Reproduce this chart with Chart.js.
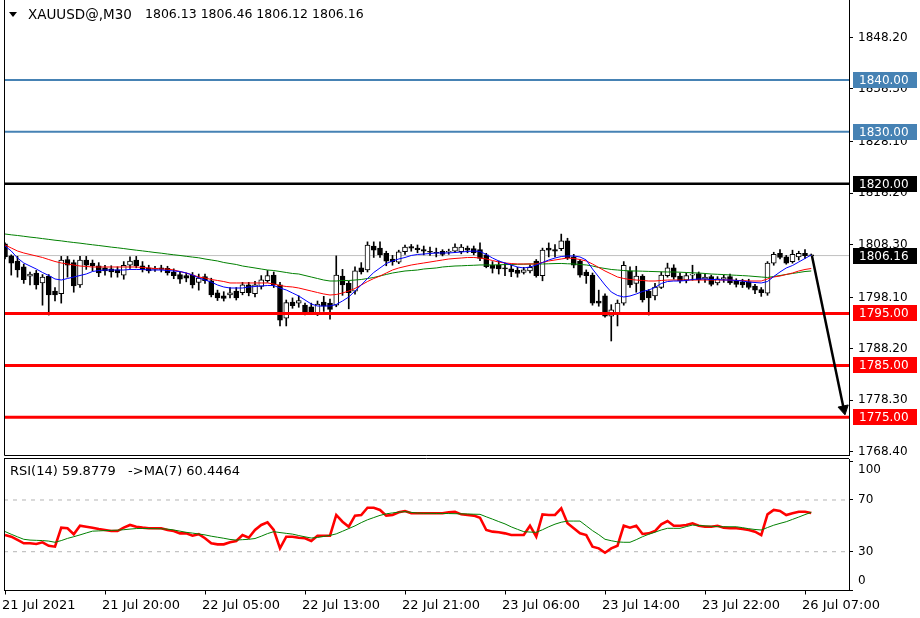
<!DOCTYPE html>
<html><head><meta charset="utf-8">
<script src="https://cdn.jsdelivr.net/npm/chart.js@4.4.0/dist/chart.umd.min.js"></script>
<style>
html,body{margin:0;padding:0;background:#fff;width:920px;height:618px;overflow:hidden}
#c1{position:absolute;left:0;top:0}
#c2{position:absolute;left:0;top:457px}
</style></head><body>
<canvas id="c1" width="920" height="457"></canvas>
<canvas id="c2" width="920" height="161"></canvas>
<script>
const symbol = 'XAUUSD@';
const timeframe = 'M30';
const opens = [
1808.4,1806.1,1805.1,1804.0,1802.2,1802.8,1800.9,1802.2,1799.3,1798.8,
1805.4,1804.8,1800.5,1805.3,1804.7,1804.2,1803.8,1803.6,1803.4,1802.4,
1804.3,1805.3,1804.2,1803.8,1803.5,1803.8,1803.7,1803.0,1802.5,1802.3,
1802.4,1801.0,1802.1,1801.3,1799.0,1798.4,1798.6,1799.3,1799.0,1800.5,
1798.8,1800.2,1801.3,1802.4,1800.5,1794.1,1797.2,1797.0,1796.6,1796.3,
1795.0,1797.2,1797.0,1796.6,1802.2,1800.8,1799.3,1803.8,1803.4,1808.0,
1807.6,1806.6,1805.5,1804.9,1806.9,1807.9,1807.6,1807.3,1807.0,1806.8,
1807.0,1806.8,1807.0,1806.9,1807.6,1807.5,1807.3,1806.3,1804.3,1804.3,
1803.8,1803.6,1803.3,1802.9,1803.2,1805.1,1802.3,1807.6,1807.3,1807.5,
1809.0,1805.9,1805.1,1803.0,1802.4,1797.4,1798.4,1794.5,1795.0,1797.0,
1803.2,1800.8,1802.2,1799.3,1798.4,1800.0,1802.3,1803.8,1802.2,1801.4,
1802.4,1802.7,1801.6,1802.1,1800.9,1801.6,1802.1,1801.2,1801.1,1801.1,
1800.3,1799.6,1798.9,1804.7,1806.6,1805.9,1805.0,1805.9,1806.6,1806.13];
const highs = [
1808.6,1806.3,1806.0,1804.5,1803.0,1803.3,1802.5,1802.5,1800.0,1806.0,
1806.0,1805.3,1806.0,1806.0,1805.3,1804.8,1804.3,1804.2,1804.0,1805.0,
1805.9,1806.0,1805.0,1804.3,1804.1,1804.3,1804.1,1803.6,1803.0,1802.8,
1802.9,1802.6,1802.6,1801.8,1799.5,1799.2,1800.0,1800.0,1801.0,1801.0,
1801.2,1802.3,1803.3,1803.0,1801.0,1797.6,1798.0,1798.4,1797.0,1797.0,
1797.4,1798.3,1797.8,1806.1,1803.5,1801.2,1804.0,1804.8,1808.8,1808.8,
1808.8,1807.0,1806.2,1807.2,1808.2,1808.3,1808.2,1808.0,1807.8,1807.6,
1807.3,1807.4,1808.4,1808.3,1808.0,1808.0,1808.6,1806.6,1805.0,1805.1,
1804.7,1804.3,1803.9,1803.9,1804.4,1805.4,1807.6,1808.6,1808.3,1810.3,
1809.5,1806.4,1805.4,1803.4,1802.8,1799.5,1798.8,1796.7,1797.6,1805.0,
1804.0,1804.1,1802.5,1799.6,1800.8,1803.0,1804.7,1804.4,1802.8,1802.8,
1804.3,1803.0,1802.6,1802.4,1802.1,1802.4,1802.6,1801.7,1801.6,1801.6,
1800.6,1800.0,1805.0,1806.8,1807.3,1806.2,1807.2,1807.0,1807.3,1806.46];
const lows = [
1805.5,1802.4,1802.0,1800.8,1800.5,1799.7,1796.6,1794.7,1797.4,1797.0,
1802.0,1799.1,1800.0,1803.5,1803.2,1802.1,1802.4,1802.0,1802.0,1801.6,
1803.7,1803.8,1803.0,1802.8,1803.1,1803.0,1802.4,1801.7,1800.8,1801.1,
1799.9,1799.5,1800.8,1798.2,1797.5,1797.4,1798.0,1797.6,1798.6,1798.4,
1798.2,1799.7,1801.0,1800.0,1792.6,1792.6,1796.0,1796.2,1794.7,1794.8,
1794.6,1795.4,1793.9,1796.3,1798.5,1795.9,1798.7,1802.6,1803.0,1805.8,
1805.8,1804.2,1804.3,1804.6,1806.4,1807.0,1806.7,1806.3,1806.2,1805.9,
1806.1,1806.4,1806.7,1806.5,1806.7,1806.3,1805.2,1803.8,1802.8,1802.6,
1802.3,1802.1,1802.0,1802.6,1802.8,1802.0,1801.3,1805.9,1805.9,1807.1,
1805.4,1803.8,1802.0,1800.8,1796.6,1796.4,1794.3,1789.7,1792.6,1796.6,
1800.0,1799.1,1797.2,1794.7,1797.6,1799.8,1802.0,1801.6,1800.9,1800.9,
1801.4,1800.9,1801.0,1800.3,1800.5,1801.0,1800.6,1800.1,1800.0,1799.7,
1798.8,1798.3,1798.5,1804.3,1805.5,1804.5,1804.7,1805.3,1805.6,1806.12];
const closes = [
1805.9,1804.7,1803.4,1801.5,1802.6,1800.5,1802.0,1798.6,1798.6,1805.3,
1804.3,1800.3,1805.3,1804.3,1804.2,1802.8,1803.2,1803.0,1802.8,1804.3,
1805.1,1804.2,1803.5,1803.2,1803.6,1803.5,1802.8,1802.3,1801.6,1801.8,
1800.5,1801.8,1801.3,1798.6,1798.0,1797.9,1799.0,1798.0,1800.5,1799.0,
1800.5,1801.5,1802.3,1800.5,1793.7,1797.1,1796.5,1797.5,1795.0,1795.2,
1796.8,1796.4,1795.8,1802.4,1800.5,1799.0,1803.2,1803.0,1808.2,1807.2,
1806.3,1805.1,1805.0,1806.9,1807.8,1807.6,1807.3,1807.0,1806.8,1806.6,
1806.4,1807.0,1807.8,1807.8,1807.2,1806.7,1805.6,1804.0,1803.7,1803.6,
1803.6,1803.0,1802.7,1803.4,1803.9,1802.3,1807.2,1807.2,1807.0,1809.0,
1805.7,1804.3,1802.4,1802.3,1797.0,1797.0,1794.5,1795.7,1797.0,1804.3,
1800.5,1802.2,1797.6,1798.0,1800.1,1802.4,1803.8,1802.0,1801.3,1802.3,
1802.6,1801.5,1802.0,1800.6,1801.7,1801.9,1800.9,1800.6,1800.5,1800.0,
1799.5,1799.0,1804.7,1806.4,1805.8,1804.7,1806.4,1806.6,1806.15,1806.16];
const maFast = [
1808.01,1807.04,1805.69,1804.73,1804.15,1803.57,1802.90,1802.32,1801.65,1801.45,
1801.74,1802.03,1802.32,1802.61,1803.09,1803.28,1803.38,1803.38,1803.38,1803.38,
1803.48,1803.48,1803.48,1803.38,1803.38,1803.38,1803.28,1803.19,1803.09,1802.80,
1802.42,1801.84,1801.45,1801.07,1800.49,1800.11,1799.91,1799.91,1799.91,1800.11,
1800.20,1800.30,1800.39,1800.39,1799.91,1799.53,1798.95,1798.37,1797.60,1796.83,
1796.44,1796.44,1796.44,1796.73,1797.41,1798.18,1799.33,1800.49,1801.74,1802.90,
1803.77,1804.63,1805.12,1805.50,1805.79,1806.18,1806.37,1806.46,1806.56,1806.66,
1806.66,1806.66,1806.75,1806.85,1806.95,1807.04,1806.95,1806.37,1805.69,1805.12,
1804.73,1804.34,1803.96,1803.77,1803.96,1804.34,1804.83,1805.31,1805.69,1805.98,
1806.08,1806.08,1805.89,1805.31,1803.57,1802.03,1800.49,1799.14,1798.47,1798.18,
1798.37,1798.76,1799.24,1799.53,1800.01,1800.78,1801.16,1801.26,1801.26,1801.36,
1801.55,1801.65,1801.65,1801.55,1801.55,1801.45,1801.45,1801.36,1801.26,1801.07,
1800.97,1800.88,1801.16,1802.13,1803.00,1803.77,1804.25,1804.92,1805.60,1806.27];
const maMid = [
1808.20,1807.62,1807.04,1806.66,1806.37,1806.08,1805.79,1805.40,1805.02,1804.73,
1804.54,1804.34,1804.15,1804.06,1803.96,1803.96,1803.96,1803.96,1803.96,1803.96,
1803.96,1803.96,1803.86,1803.77,1803.67,1803.57,1803.57,1803.38,1803.09,1802.80,
1802.42,1802.03,1801.84,1801.55,1801.36,1801.16,1800.88,1800.88,1800.88,1800.88,
1800.88,1800.88,1800.88,1800.68,1800.39,1800.20,1800.11,1799.91,1799.62,1799.33,
1799.04,1798.76,1798.56,1798.66,1798.95,1799.33,1799.82,1800.49,1801.16,1801.74,
1802.22,1802.80,1803.38,1803.77,1804.06,1804.34,1804.54,1804.73,1804.92,1805.12,
1805.31,1805.50,1805.60,1805.69,1805.79,1805.79,1805.69,1805.50,1805.21,1804.92,
1804.73,1804.63,1804.54,1804.54,1804.54,1804.54,1804.83,1805.12,1805.31,1805.50,
1805.69,1805.60,1805.40,1805.12,1804.54,1803.86,1803.19,1802.61,1802.03,1801.74,
1801.55,1801.45,1801.36,1801.26,1801.26,1801.36,1801.45,1801.45,1801.45,1801.45,
1801.45,1801.45,1801.45,1801.45,1801.45,1801.45,1801.45,1801.36,1801.36,1801.26,
1801.26,1801.26,1801.65,1802.03,1802.22,1802.52,1802.80,1803.19,1803.48,1803.67];
const maSlow = [
1810.32,1810.16,1810.03,1809.88,1809.72,1809.59,1809.43,1809.28,1809.12,1808.99,
1808.83,1808.68,1808.55,1808.39,1808.24,1808.10,1807.95,1807.79,1807.66,1807.51,
1807.35,1807.20,1807.06,1806.91,1806.75,1806.62,1806.46,1806.31,1806.18,1806.02,
1805.87,1805.73,1805.50,1805.31,1805.12,1804.83,1804.63,1804.44,1804.15,1803.96,
1803.77,1803.57,1803.38,1803.28,1803.09,1802.90,1802.71,1802.61,1802.32,1802.03,
1801.74,1801.45,1801.26,1801.26,1801.36,1801.36,1801.45,1801.55,1801.74,1801.94,
1802.23,1802.52,1802.80,1803.00,1803.19,1803.28,1803.38,1803.57,1803.67,1803.77,
1803.96,1804.06,1804.15,1804.19,1804.25,1804.29,1804.35,1804.35,1804.35,1804.39,
1804.42,1804.44,1804.48,1804.50,1804.54,1804.54,1804.54,1804.58,1804.62,1804.64,
1804.58,1804.54,1804.44,1804.35,1804.15,1803.87,1803.67,1803.48,1803.38,1803.28,
1803.19,1803.19,1803.15,1803.11,1803.07,1803.03,1803.00,1803.00,1802.96,1802.90,
1802.84,1802.80,1802.71,1802.61,1802.55,1802.50,1802.42,1802.36,1802.30,1802.23,
1802.13,1802.03,1801.94,1802.13,1802.32,1802.52,1802.71,1802.90,1803.09,1803.19];
const rsi = [
42.9,41.6,39.1,36.5,36.5,36.0,37.3,34.6,33.9,48.6,
48.1,43.5,50.1,49.3,48.6,47.6,46.8,46.0,46.0,48.6,
50.7,49.3,48.6,48.1,48.1,48.1,46.8,46.0,44.2,44.2,
42.4,43.5,40.4,36.5,35.7,35.7,37.3,38.3,42.9,40.8,
46.8,50.7,52.7,46.8,32.6,41.6,41.6,40.8,40.4,38.3,
42.4,42.4,42.4,58.4,53.2,49.3,57.9,58.4,64.0,64.0,
62.3,57.9,58.4,60.5,61.5,59.7,59.7,59.7,59.7,59.7,
59.7,60.5,60.9,58.9,58.4,57.9,56.3,46.8,45.5,45.0,
44.2,42.9,42.9,42.9,50.1,41.6,58.9,58.4,58.4,63.6,
52.0,48.1,44.2,42.9,33.9,32.6,29.2,32.6,34.6,50.1,
48.6,50.1,43.7,44.2,46.0,51.2,53.7,50.1,50.1,50.7,
52.0,50.1,49.3,49.3,50.1,48.6,48.1,48.1,47.6,46.8,
45.5,42.9,58.9,62.3,61.5,58.4,59.7,60.9,60.9,59.8779];
const rsiMa = [
45.6,43.5,41.5,39.6,39.0,38.8,38.6,38.2,37.3,38.6,
40.3,41.6,43.0,44.5,45.9,46.1,46.3,46.5,46.7,47.0,
47.5,47.9,48.0,47.9,47.8,47.7,47.5,46.8,45.9,45.0,
44.4,43.7,43.0,42.0,41.2,40.4,39.5,39.0,39.3,39.6,
40.2,42.0,44.0,45.5,44.8,44.2,43.6,42.5,41.5,40.6,
41.0,41.8,42.6,43.8,45.8,47.9,50.0,52.5,54.7,56.4,
58.1,59.3,60.0,60.6,61.0,60.4,59.9,59.7,59.7,59.6,
59.6,59.5,59.4,59.3,59.2,59.0,58.9,57.0,55.2,53.3,
51.5,49.2,47.3,45.5,45.2,45.0,47.0,49.3,51.3,52.8,
53.7,53.7,53.7,50.0,46.3,43.2,39.6,38.5,37.6,37.3,
37.3,39.3,41.6,43.5,45.1,46.8,48.1,48.1,48.1,49.4,
50.6,50.3,50.0,49.7,49.4,49.3,49.3,49.3,48.6,47.8,
47.2,46.8,48.7,50.5,51.9,53.2,55.0,56.8,58.7,60.4464];
const priceTicks = [1848.2, 1838.3, 1828.1, 1818.2, 1808.3, 1798.1, 1788.2, 1778.3, 1768.4];
const levelValues = [1840, 1830, 1820, 1795, 1785, 1775];
const rsiLevels = [70, 30];
const rsiTicks = [0, 30, 70, 100];
const timeTickIdx = [0, 16, 32, 48, 64, 80, 96, 112, 128];
const timeTickLabels = ['21 Jul 2021','21 Jul 20:00','22 Jul 05:00','22 Jul 13:00','22 Jul 21:00','23 Jul 06:00','23 Jul 14:00','23 Jul 22:00','26 Jul 07:00'];
const arrowX = [129.1, 134.2];
const arrowY = [1806.16, 1776.6];

// ---- styles / layout ----
const FONT = 'DejaVu Sans';
const levelColors = ['#4682b4', '#4682b4', '#000000', '#ff0000', '#ff0000', '#ff0000'];
const levelWidths = [2, 2, 2.5, 3, 3, 3];
const xMin = -0.16, xMax = 135.04;
const last = closes.length - 1;
const idx = closes.map((_, i) => i);
const asLine = arr => arr.map((v, i) => ({x: i, y: v}));
const hLine = v => [{x: xMin, y: v}, {x: xMax, y: v}];
const noPadY = s => { s.width = 71; s.paddingTop = 0; s.paddingBottom = 0; };

const mainDatasets = [];
mainDatasets.push({type: 'line', data: hLine(closes[last]), borderColor: '#c0c0c0', borderWidth: 1, pointRadius: 0, order: 20});
mainDatasets.push({type: 'bar', data: idx.map(i => ({x: i, y: [lows[i], highs[i]]})), backgroundColor: '#000', barThickness: 1, grouped: false, order: 10});
mainDatasets.push({type: 'bar', data: idx.map(i => ({x: i, y: [opens[i], closes[i]]})),
  backgroundColor: idx.map(i => closes[i] >= opens[i] ? '#ffffff' : '#000000'),
  borderColor: '#000', borderWidth: 1, borderSkipped: false, barThickness: 5, minBarLength: 1, grouped: false, order: 9});
[[maSlow, '#008000'], [maMid, '#ff0000'], [maFast, '#0000ff']].forEach(([arr, col], k) => {
  mainDatasets.push({type: 'line', data: asLine(arr), borderColor: col, borderWidth: 1, pointRadius: 0, tension: 0, order: 6 - k});
});
levelValues.forEach((v, k) => {
  mainDatasets.push({type: 'line', data: hLine(v), borderColor: levelColors[k], borderWidth: levelWidths[k], pointRadius: 0, order: 2});
});
mainDatasets.push({type: 'line', data: [{x: arrowX[0], y: arrowY[0]}, {x: arrowX[1], y: arrowY[1]}],
  borderColor: '#000', borderWidth: 2.5, pointRadius: [0, 6], pointStyle: 'triangle', pointRotation: [0, 168],
  pointBackgroundColor: '#000', pointBorderColor: '#000', pointBorderWidth: 1, clip: 10, order: 0});

const tagDefs = levelValues.map((v, k) => ({v, bg: levelColors[k]})).concat([{v: closes[last], bg: '#000000'}]);

const mainDecor = {
  id: 'mainDecor',
  afterDraw(chart) {
    const ctx = chart.ctx, a = chart.chartArea, ys = chart.scales.y;
    ctx.save();
    ctx.strokeStyle = '#000'; ctx.lineWidth = 1;
    ctx.beginPath();
    ctx.moveTo(a.left + 0.5, 0); ctx.lineTo(a.left + 0.5, a.bottom + 0.5); ctx.lineTo(a.right, a.bottom + 0.5);
    ctx.stroke();
    ctx.fillStyle = '#000';
    ctx.beginPath(); ctx.moveTo(9, 12); ctx.lineTo(17, 12); ctx.lineTo(13, 17); ctx.closePath(); ctx.fill();
    ctx.textBaseline = 'middle'; ctx.textAlign = 'left';
    ctx.font = '13.5px ' + FONT;
    ctx.fillText(symbol + ',' + timeframe, 28, 15);
    ctx.font = '12.5px ' + FONT;
    ctx.fillText([opens[last], highs[last], lows[last], closes[last]].map(v => v.toFixed(2)).join(' '), 145, 15);
    ctx.font = '12px ' + FONT;
    tagDefs.forEach(t => {
      const y = Math.round(ys.getPixelForValue(t.v));
      ctx.fillStyle = t.bg; ctx.fillRect(853, y - 8, 64, 16);
      ctx.fillStyle = '#fff'; ctx.fillText(t.v.toFixed(2), 859, y + 0.5);
    });
    ctx.restore();
  }
};

new Chart(document.getElementById('c1'), {
  type: 'bar',
  data: {datasets: mainDatasets},
  options: {
    responsive: false, animation: false, events: [],
    layout: {autoPadding: false, padding: {left: 4, right: 0, top: 0, bottom: 2}},
    plugins: {legend: {display: false}, tooltip: {enabled: false}},
    scales: {
      x: {type: 'linear', min: xMin, max: xMax, offset: false, display: false},
      y: {position: 'right', min: 1767.73, max: 1855.41,
        afterFit: noPadY,
        afterBuildTicks: s => { s.ticks = priceTicks.map(v => ({value: v})); },
        grid: {drawOnChartArea: false, drawTicks: true, tickLength: 4, color: '#000'},
        border: {display: true, color: '#000', width: 1},
        ticks: {padding: 5, color: '#000', font: {family: FONT, size: 12}, callback: v => Number(v).toFixed(2)}
      }
    }
  },
  plugins: [mainDecor]
});

const rsiDecor = {
  id: 'rsiDecor',
  afterDraw(chart) {
    const ctx = chart.ctx, a = chart.chartArea, ys = chart.scales.y;
    ctx.save();
    ctx.strokeStyle = '#000'; ctx.lineWidth = 1;
    ctx.beginPath();
    ctx.moveTo(a.left, a.top - 0.5); ctx.lineTo(a.right, a.top - 0.5);
    ctx.moveTo(a.left + 0.5, a.top - 1); ctx.lineTo(a.left + 0.5, a.bottom);
    ctx.stroke();
    ctx.fillStyle = '#000'; ctx.textBaseline = 'middle'; ctx.textAlign = 'left';
    ctx.font = '13px ' + FONT;
    ctx.fillText('RSI(14) ' + rsi[last].toFixed(4) + '   ->MA(7) ' + rsiMa[last].toFixed(4), 10, 15);
    ctx.font = '12px ' + FONT;
    ctx.fillText(String(rsiTicks[3]), a.right + 9, ys.getPixelForValue(rsiTicks[3]) + 9);
    ctx.fillText(String(rsiTicks[0]), a.right + 9, ys.getPixelForValue(rsiTicks[0]) - 10);
    ctx.restore();
  }
};

const rsiDatasets = rsiLevels.map(v => ({data: hLine(v), borderColor: '#b4b4b4', borderWidth: 1, borderDash: [4, 5], pointRadius: 0, order: 5}));
rsiDatasets.push({data: asLine(rsi), borderColor: '#ff0000', borderWidth: 2.6, pointRadius: 0, tension: 0, order: 2});
rsiDatasets.push({data: asLine(rsiMa), borderColor: '#008000', borderWidth: 1, pointRadius: 0, tension: 0, order: 1});

new Chart(document.getElementById('c2'), {
  type: 'line',
  data: {datasets: rsiDatasets},
  options: {
    responsive: false, animation: false, events: [],
    layout: {autoPadding: false, padding: {left: 4, right: 0, top: 2, bottom: 0}},
    plugins: {legend: {display: false}, tooltip: {enabled: false}},
    scales: {
      x: {type: 'linear', min: xMin, max: xMax, offset: false,
        afterFit: s => { s.height = 27.5; s.paddingLeft = 0; s.paddingRight = 0; },
        afterBuildTicks: s => { s.ticks = timeTickIdx.map(v => ({value: v})); },
        grid: {drawOnChartArea: false, drawTicks: true, tickLength: 4, color: '#000'},
        border: {display: true, color: '#000', width: 1},
        ticks: {autoSkip: false, maxRotation: 0, minRotation: 0, align: 'start',
          labelOffset: ctx => (ctx.index === 0 ? 6 : -3), padding: 3,
          color: '#000', font: {family: FONT, size: 13}, callback: (v, i) => timeTickLabels[i]}
      },
      y: {position: 'right', min: 0, max: 101.7,
        afterFit: noPadY,
        afterBuildTicks: s => { s.ticks = rsiTicks.map(v => ({value: v})); },
        grid: {drawOnChartArea: false, drawTicks: true, tickLength: 4, color: '#000'},
        border: {display: true, color: '#000', width: 1},
        ticks: {padding: 5, color: '#000', font: {family: FONT, size: 12},
          callback: v => (v === rsiLevels[0] || v === rsiLevels[1]) ? String(v) : ''}
      }
    }
  },
  plugins: [rsiDecor]
});
</script>
</body></html>
